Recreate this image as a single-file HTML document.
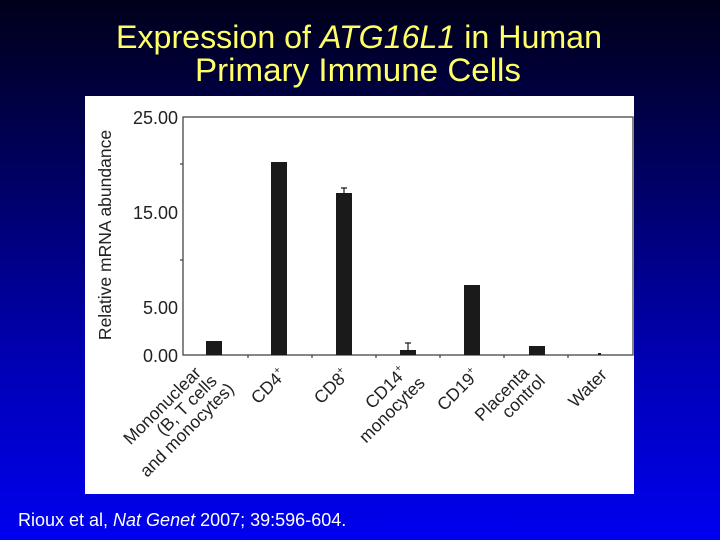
<!DOCTYPE html>
<html><head><style>
body{margin:0;width:720px;height:540px;overflow:hidden;background:linear-gradient(#00001a 0%,#000050 25%,#0000b0 65%,#0000f0 100%);}
</style></head><body>
<svg width="720" height="540" xmlns="http://www.w3.org/2000/svg" style="position:absolute;left:0;top:0">
<g font-family="Liberation Sans, sans-serif" fill="#ffff66" font-size="32">
<text x="116" y="48" textLength="486" lengthAdjust="spacingAndGlyphs">Expression of <tspan font-style="italic">ATG16L1</tspan> in Human</text>
<text x="195" y="81" textLength="326" lengthAdjust="spacingAndGlyphs">Primary Immune Cells</text>
</g>
<rect x="85" y="96" width="549" height="398" fill="#fff"/>
<g font-family="Liberation Sans, sans-serif" fill="#222" font-size="18">
<text x="178" y="124" text-anchor="end">25.00</text>
<text x="178" y="219" text-anchor="end">15.00</text>
<text x="178" y="314" text-anchor="end">5.00</text>
<text x="178" y="362" text-anchor="end">0.00</text>
<text transform="translate(111,235) rotate(-90)" text-anchor="middle" font-size="17.5">Relative mRNA abundance</text>
</g>
<g stroke="#444" stroke-width="1.3" fill="none">
<rect x="183" y="117" width="450" height="238"/>
<path d="M183 164h-3M183 260h-3M248 355v3M312 355v3M376 355v3M440 355v3M504 355v3M568 355v3"/>
</g>
<g fill="#1a1a1a">
<rect x="206" y="341" width="16" height="14"/>
<rect x="271" y="162" width="16" height="193"/>
<rect x="336" y="193" width="16" height="162"/>
<rect x="400" y="350" width="16" height="5"/>
<rect x="464" y="285" width="16" height="70"/>
<rect x="529" y="346" width="16" height="9"/>
<rect x="598" y="353" width="3" height="2"/>
</g>
<g stroke="#1a1a1a" stroke-width="1.2">
<path d="M344 193v-5M341 188h6M408 350v-7M405 343h6"/>
</g>
<g font-family="Liberation Sans, sans-serif" fill="#222" font-size="17.5" text-anchor="end">
<text transform="translate(202,374) rotate(-45)">Mononuclear</text>
<text transform="translate(218,382) rotate(-45)">(B, T cells</text>
<text transform="translate(235,390) rotate(-45)">and monocytes)</text>
<text transform="translate(287,376) rotate(-45)">CD4<tspan font-size="10" dy="-8">+</tspan></text>
<text transform="translate(350,376) rotate(-45)">CD8<tspan font-size="10" dy="-8">+</tspan></text>
<text transform="translate(408,374) rotate(-45)">CD14<tspan font-size="10" dy="-8">+</tspan></text>
<text transform="translate(426,384) rotate(-45)">monocytes</text>
<text transform="translate(480,376) rotate(-45)">CD19<tspan font-size="10" dy="-8">+</tspan></text>
<text transform="translate(530,374) rotate(-45)">Placenta</text>
<text transform="translate(546,382) rotate(-45)">control</text>
<text transform="translate(608,376) rotate(-45)">Water</text>
</g>
<text x="18" y="526" font-family="Liberation Sans, sans-serif" font-size="18" fill="#fff">Rioux et al, <tspan font-style="italic">Nat Genet</tspan> 2007; 39:596-604.</text>
</svg>
</body></html>
